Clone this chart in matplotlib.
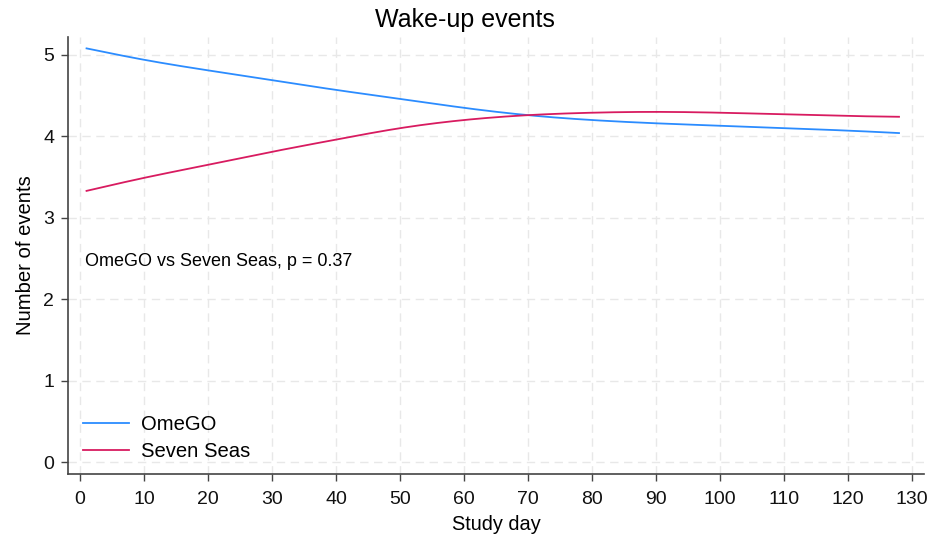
import matplotlib
matplotlib.use("Agg")
import matplotlib.pyplot as plt
import numpy as np

plt.rcParams['font.family'] = ['Liberation Sans', 'DejaVu Sans']

days = [1, 10, 20, 30, 40, 50, 60, 70, 80, 90, 100, 110, 120, 128]
omego = [5.08, 4.94, 4.81, 4.69, 4.57, 4.46, 4.35, 4.26, 4.20, 4.16, 4.13, 4.10, 4.07, 4.04]
seven_seas = [3.33, 3.49, 3.65, 3.81, 3.96, 4.10, 4.20, 4.26, 4.29, 4.30, 4.29, 4.27, 4.25, 4.24]
x_ticks = list(range(0, 131, 10))
y_ticks = [0, 1, 2, 3, 4, 5]


def smooth(x, y, n=300):
    x = np.asarray(x, float); y = np.asarray(y, float)
    xs = np.linspace(x[0], x[-1], n)
    k = len(x)
    h = np.diff(x)
    A = np.zeros((k, k)); b = np.zeros(k)
    A[0, 0] = 1; A[-1, -1] = 1
    for i in range(1, k - 1):
        A[i, i - 1] = h[i - 1]; A[i, i] = 2 * (h[i - 1] + h[i]); A[i, i + 1] = h[i]
        b[i] = 3 * ((y[i + 1] - y[i]) / h[i] - (y[i] - y[i - 1]) / h[i - 1])
    c = np.linalg.solve(A, b)
    ys = np.empty_like(xs)
    for j, xv in enumerate(xs):
        i = min(np.searchsorted(x, xv, side='right') - 1, k - 2)
        dx = xv - x[i]
        bb = (y[i + 1] - y[i]) / h[i] - h[i] * (2 * c[i] + c[i + 1]) / 3
        d = (c[i + 1] - c[i]) / (3 * h[i])
        ys[j] = y[i] + bb * dx + c[i] * dx ** 2 + d * dx ** 3
    return xs, ys


fig = plt.figure(figsize=(9.3, 5.36), dpi=100)
ax = fig.add_axes([0.0731, 0.1157, 0.9204, 0.8153])

grid_c = '#e8e8e8'
for t in x_ticks:
    ax.axvline(t, color=grid_c, lw=1.0, ls=(0, (6, 4)), zorder=0)
for t in y_ticks:
    ax.axhline(t, color=grid_c, lw=1.0, ls=(0, (6, 4)), zorder=0)

xs, ys = smooth(days, omego)
ax.plot(xs, ys, color='#2b8cff', lw=1.3, label='OmeGO')
xs, ys = smooth(days, seven_seas)
ax.plot(xs, ys, color='#d81b60', lw=1.3, label='Seven Seas')

ax.set_xlim(-1.9, 131.9)
ax.set_ylim(-0.147, 5.22)
ax.set_xticks(x_ticks)
ax.set_yticks(y_ticks)
for s in ['top', 'right']:
    ax.spines[s].set_visible(False)
for s in ['left', 'bottom']:
    ax.spines[s].set_color('#444444')
    ax.spines[s].set_linewidth(1.2)
ax.tick_params(direction='out', length=5, width=1.0, color='#444444', labelsize=14, labelcolor='#111111')
ax.tick_params(axis='x', pad=7)
ax.tick_params(axis='y', pad=5)

ax.set_xlabel('Study day', fontsize=14.4, labelpad=5)
ax.set_ylabel('Number of events', fontsize=14.6, labelpad=6)
fig.text(0.5, 1 - 20 / 536, 'Wake-up events', fontsize=18, ha='center', va='center')

ax.text(0.8, 2.46, 'OmeGO vs Seven Seas, p = 0.37', fontsize=13, va='center', ha='left')

ax.legend(loc='center left', frameon=False, fontsize=14.6, handlelength=2.25, handletextpad=0.62,
          bbox_to_anchor=(83 / 930, (536 - 438) / 536), bbox_transform=fig.transFigure,
          borderaxespad=0, borderpad=0, labelspacing=0.38)

fig.savefig('out.png', dpi=100)
